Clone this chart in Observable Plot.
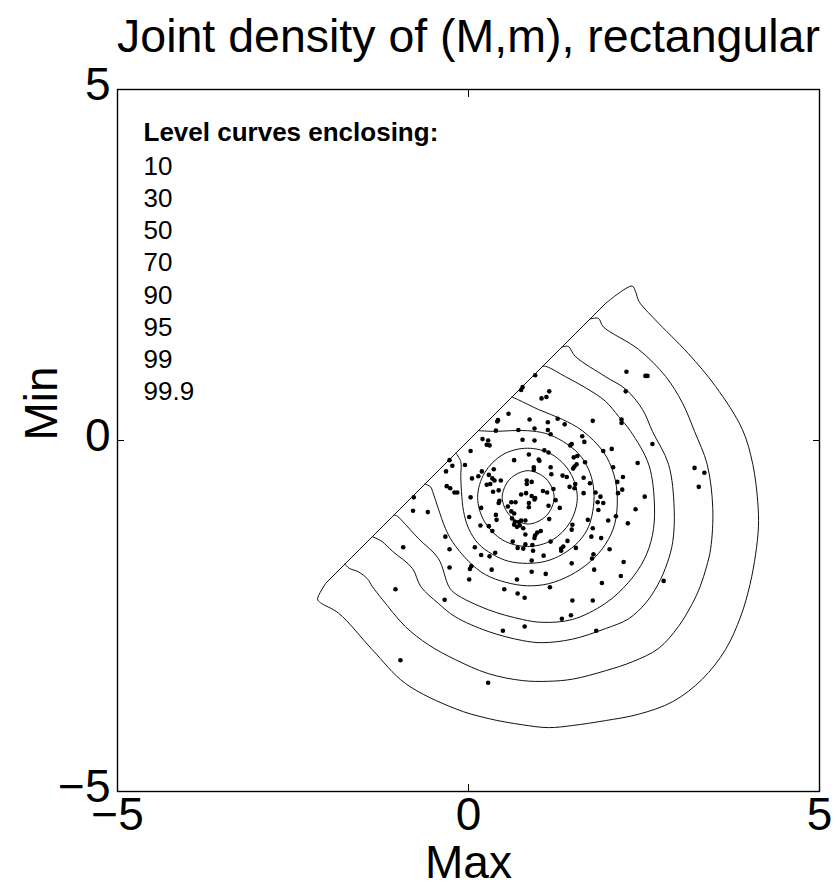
<!DOCTYPE html>
<html>
<head>
<meta charset="utf-8">
<script src="https://cdn.jsdelivr.net/npm/d3@7"></script>
<script src="https://cdn.jsdelivr.net/npm/@observablehq/plot@0.6"></script>
<style>
  html, body { margin: 0; padding: 0; background: white; }
</style>
</head>
<body>
<div id="chart"></div>
<script>
const titleText = "Joint density of (M,m), rectangular";
const xLabel = "Max";
const yLabel = "Min";
const xTicks = [-5, 0, 5];
const yTicks = [-5, 0, 5];
const legendTitle = "Level curves enclosing:";
const levels = ["10", "30", "50", "70", "90", "95", "99", "99.9"];

// level curves, [Max, Min]
const c10 = [[1.22,-0.81],[1.11,-0.55],[0.85,-0.43],[0.59,-0.55],[0.48,-0.81],[0.59,-1.07],[0.85,-1.19],[1.11,-1.07]];
const c30 = [[1.55,-0.81],[1.45,-0.46],[1.19,-0.20],[0.84,-0.11],[0.49,-0.20],[0.23,-0.46],[0.13,-0.81],[0.23,-1.16],[0.49,-1.42],[0.84,-1.51],[1.19,-1.42],[1.45,-1.16]];
const c50 = [[-0.18,-0.18],[-0.11,-0.30],[-0.11,-0.51],[-0.10,-0.73],[-0.07,-1.01],[0.00,-1.25],[0.14,-1.47],[0.34,-1.62],[0.57,-1.72],[0.84,-1.75],[1.10,-1.72],[1.34,-1.62],[1.57,-1.44],[1.71,-1.23],[1.78,-0.94],[1.78,-0.66],[1.71,-0.41],[1.57,-0.19],[1.34,-0.01],[1.10,0.10],[0.84,0.14],[0.60,0.14],[0.38,0.13],[0.14,0.14]];
const c70 = [[-0.62,-0.62],[-0.54,-0.66],[-0.51,-0.73],[-0.43,-0.97],[-0.33,-1.25],[-0.23,-1.44],[0.00,-1.72],[0.24,-1.91],[0.53,-2.02],[0.84,-2.07],[1.14,-2.04],[1.45,-1.92],[1.74,-1.72],[1.95,-1.48],[2.08,-1.20],[2.12,-0.83],[2.07,-0.48],[1.92,-0.16],[1.62,0.14],[1.34,0.30],[1.00,0.44],[0.71,0.58],[0.62,0.62]];
const c90 = [[-1.06,-1.06],[-1.01,-1.08],[-0.94,-1.15],[-0.71,-1.40],[-0.43,-1.68],[-0.28,-2.08],[-0.19,-2.18],[0.28,-2.41],[0.77,-2.55],[1.05,-2.59],[1.48,-2.55],[1.95,-2.32],[2.28,-2.02],[2.50,-1.70],[2.62,-1.35],[2.65,-0.96],[2.57,-0.35],[2.31,0.13],[2.14,0.34],[1.95,0.56],[1.67,0.75],[1.38,0.91],[1.12,1.05],[1.06,1.06]];
const c95 = [[-1.37,-1.37],[-1.30,-1.40],[-1.23,-1.44],[-1.08,-1.58],[-0.80,-1.82],[-0.68,-2.08],[-0.43,-2.32],[-0.19,-2.51],[0.28,-2.72],[0.77,-2.85],[1.05,-2.88],[1.48,-2.83],[1.95,-2.68],[2.28,-2.54],[2.52,-2.32],[2.70,-2.05],[2.83,-1.75],[2.91,-1.44],[2.93,-0.97],[2.85,-0.34],[2.62,0.13],[2.48,0.44],[2.24,0.73],[1.95,0.91],[1.52,1.20],[1.42,1.34],[1.33,1.33]];
const c99 = [[-1.76,-1.76],[-1.70,-1.82],[-1.57,-1.87],[-1.44,-1.97],[-1.37,-2.08],[-1.23,-2.26],[-0.90,-2.65],[-0.57,-2.91],[-0.19,-3.12],[0.28,-3.32],[0.77,-3.42],[1.14,-3.43],[1.48,-3.40],[1.95,-3.28],[2.34,-3.15],[2.71,-2.96],[2.99,-2.65],[3.19,-2.32],[3.30,-2.08],[3.39,-1.80],[3.45,-1.54],[3.48,-0.97],[3.40,-0.34],[3.22,0.13],[3.05,0.53],[2.81,0.91],[2.42,1.30],[1.92,1.62],[1.85,1.74],[1.73,1.73]];
const c999 = [[-2.03,-2.03],[-2.15,-2.26],[-2.11,-2.31],[-1.85,-2.46],[-1.37,-2.98],[-0.90,-3.46],[-0.19,-3.82],[0.28,-3.96],[0.77,-4.05],[1.14,-4.09],[1.48,-4.06],[1.95,-3.99],[2.42,-3.90],[2.91,-3.72],[3.33,-3.40],[3.66,-2.98],[3.88,-2.50],[4.01,-2.05],[4.09,-1.62],[4.13,-1.23],[4.12,-0.87],[4.05,-0.34],[3.90,0.16],[3.52,0.77],[3.13,1.24],[2.66,1.72],[2.43,1.98],[2.38,2.12],[2.33,2.20],[1.95,1.95]];

// simulated sample, [Max, Min]
const sample = [
[0.20,0.02],[0.28,0.00],[0.26,-0.06],[0.30,-0.07],[0.03,-0.15],[0.77,0.01],[0.94,0.00],[1.17,0.09],[1.62,0.06],[1.65,-0.02],
[1.45,-0.07],[1.47,-0.05],[1.08,-0.14],[1.14,-0.17],[1.92,-0.15],[0.86,-0.20],[0.65,-0.28],[1.00,-0.27],[1.01,-0.29],[1.50,-0.24],
[1.55,-0.22],[1.66,-0.31],[-0.05,-0.35],[0.36,-0.41],[0.19,-0.44],[0.93,-0.38],[0.93,-0.42],[1.17,-0.38],[1.51,-0.37],[1.49,-0.40],
[1.54,-0.34],[1.18,-0.48],[1.34,-0.50],[1.40,-0.52],[0.14,-0.51],[0.05,-0.54],[0.29,-0.49],[0.34,-0.54],[0.37,-0.57],[0.46,-0.57],
[0.31,-0.62],[0.26,-0.63],[0.83,-0.57],[0.90,-0.59],[0.83,-0.62],[1.64,-0.53],[1.73,-0.61],[1.44,-0.66],[1.51,-0.68],[1.52,-0.62],
[1.21,-0.69],[1.06,-0.72],[1.12,-0.74],[0.43,-0.71],[0.35,-0.73],[-0.16,-0.74],[1.64,-0.75],[1.81,-0.74],[0.75,-0.77],[0.82,-0.75],
[0.90,-0.79],[0.95,-0.82],[0.94,-0.84],[0.03,-0.81],[1.24,-0.85],[1.88,-0.80],[1.84,-0.88],[1.92,-0.89],[0.44,-0.86],[0.43,-0.89],
[0.61,-0.88],[0.67,-0.88],[0.86,-0.89],[0.86,-0.95],[0.56,-0.94],[0.18,-0.96],[1.14,-0.93],[1.30,-0.96],[0.61,-1.01],[0.65,-1.04],
[1.85,-0.99],[0.39,-1.06],[0.40,-1.13],[0.01,-1.09],[0.62,-1.11],[0.66,-1.16],[0.72,-1.16],[0.75,-1.14],[0.81,-1.14],[1.70,-1.13],
[1.15,-1.12],[0.65,-1.20],[0.69,-1.23],[0.73,-1.21],[1.48,-1.20],[0.17,-1.21],[0.29,-1.22],[1.77,-1.25],[0.78,-1.25],[0.34,-1.29],
[1.03,-1.29],[0.98,-1.31],[0.95,-1.35],[0.94,-1.39],[0.81,-1.34],[1.47,-1.27],[1.89,-1.39],[1.75,-1.37],[0.63,-1.44],[1.17,-1.44],
[1.41,-1.43],[0.91,-1.49],[0.81,-1.48],[1.35,-1.51],[1.32,-1.54],[1.32,-1.57],[0.70,-1.53],[0.78,-1.54],[0.09,-1.52],[0.92,-1.57],
[1.53,-1.53],[0.38,-1.60],[0.18,-1.63],[0.30,-1.65],[1.07,-1.64],[1.78,-1.62],[1.76,-1.68],[0.90,-1.71],[1.47,-1.75],[0.04,-1.79],
[0.02,-1.83],[0.33,-1.84],[0.90,-1.87],[1.10,-1.90],[1.79,-1.84],[0.01,-1.98],[0.69,-1.98],[1.90,-2.03],
[0.95,0.93],[0.77,0.76],[0.75,0.72],[1.15,0.70],[1.04,0.60],[1.11,0.62],[0.57,0.38],[0.42,0.29],[0.41,0.27],[0.87,0.30],
[1.13,0.26],[1.27,0.31],[1.37,0.23],[1.77,0.28],[0.39,0.14],[0.71,0.15],[0.94,0.17],[1.13,0.15],
[2.25,0.98],[2.52,0.92],[2.55,0.92],[2.24,0.70],[2.18,0.30],[2.18,0.25],
[-0.27,-0.28],[-0.23,-0.36],[-0.32,-0.44],[-0.31,-0.65],[-0.26,-0.68],[-0.20,-0.74],[-0.79,-1.00],[-0.58,-1.02],[-0.33,-1.37],[-0.93,-1.52],
[-0.27,-1.55],[-0.27,-1.81],[-0.78,-0.81],
[2.04,-0.12],[2.62,-0.05],[2.41,-0.32],[2.06,-0.38],[2.20,-0.52],[2.12,-0.59],[2.19,-0.70],[2.13,-0.75],[2.51,-0.80],[2.38,-0.98],
[2.10,-1.08],[1.99,-1.14],[2.27,-1.18],[3.22,-0.39],[3.36,-0.46],[3.28,-0.66],[2.01,-1.55],[2.21,-1.73],[2.17,-1.93],[2.78,-2.00],
[-1.04,-2.12],[-0.34,-2.27],[-0.97,-3.13],
[0.51,-2.12],[0.70,-2.18],[0.80,-2.24],[1.16,-2.09],[1.48,-2.28],[1.77,-2.28],[1.33,-2.54],[1.46,-2.49],[0.49,-2.71],[0.80,-2.65],
[1.82,-2.71],[0.28,-3.45]
];

const closedCurves = [c10, c30];
const openCurves = [c50, c70, c90, c95, c99, c999];
const diagonalEdges = openCurves.map(c => ({a: c[0], b: c[c.length - 1]}));

const font = "'Liberation Sans', Arial, Helvetica, sans-serif";
const lineStyle = {stroke: "#111", strokeWidth: 1};
const intFormat = d3.format("d");

const marks = [
  Plot.frame({stroke: "black", strokeWidth: 1.4}),
  ...closedCurves.map(c => Plot.line(c, {x: d => d[0], y: d => d[1], curve: "catmull-rom-closed", ...lineStyle})),
  ...openCurves.map(c => Plot.line(c, {x: d => d[0], y: d => d[1], curve: "catmull-rom", ...lineStyle})),
  Plot.link(diagonalEdges, {x1: d => d.a[0], y1: d => d.a[1], x2: d => d.b[0], y2: d => d.b[1], ...lineStyle}),
  Plot.dot(sample, {x: d => d[0], y: d => d[1], r: 2.3, fill: "black", stroke: null}),
  Plot.axisX(xTicks, {anchor: "bottom", tickSize: 0, tickPadding: 6, fontSize: 46, tickFormat: intFormat, label: null}),
  Plot.axisY(yTicks, {anchor: "left", tickSize: 0, tickPadding: 7, dy: -4, fontSize: 46, tickFormat: intFormat, label: null}),
  Plot.axisX(xTicks, {anchor: "bottom", tickSize: -7, tickFormat: () => "", label: null}),
  Plot.axisX(xTicks, {anchor: "top", tickSize: -7, tickFormat: () => "", label: null}),
  Plot.axisY(yTicks, {anchor: "left", tickSize: -7, tickFormat: () => "", label: null}),
  Plot.axisY(yTicks, {anchor: "right", tickSize: -7, tickFormat: () => "", label: null}),
  Plot.text([titleText], {text: d => d, frameAnchor: "top", lineAnchor: "bottom", dy: -38, fontSize: 46.5}),
  Plot.text([xLabel], {text: d => d, frameAnchor: "bottom", lineAnchor: "bottom", dy: 86, fontSize: 46}),
  Plot.text([yLabel], {text: d => d, frameAnchor: "left", lineAnchor: "bottom", rotate: -90, dx: -61, fontSize: 46}),
  Plot.text([legendTitle], {text: d => d, frameAnchor: "top-left", textAnchor: "start", lineAnchor: "bottom", dx: 26, dy: 51, fontSize: 26, fontWeight: "bold"}),
  Plot.text([levels.join("\n")], {text: d => d, frameAnchor: "top-left", textAnchor: "start", lineAnchor: "top", lineHeight: 1.238, dx: 26, dy: 62.5, fontSize: 26})
];

const chart = Plot.plot({
  width: 836,
  height: 886,
  marginLeft: 117,
  marginRight: 17,
  marginTop: 89,
  marginBottom: 95,
  x: {domain: [-5, 5]},
  y: {domain: [-5, 5]},
  style: {fontFamily: font, fontSize: "46px", background: "white", color: "black", overflow: "visible"},
  marks
});
document.getElementById("chart").appendChild(chart);
</script>
</body>
</html>
